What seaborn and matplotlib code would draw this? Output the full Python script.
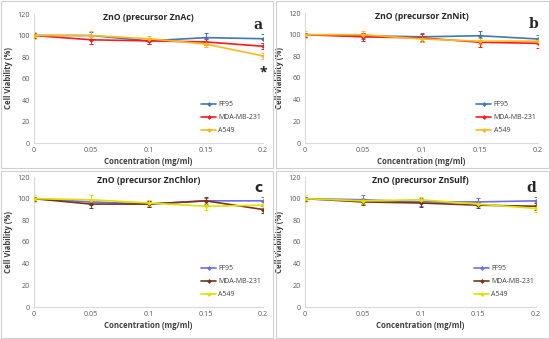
import numpy as np
import pandas as pd
import matplotlib as mpl
import matplotlib.pyplot as plt
import seaborn as sns
from matplotlib.patches import Rectangle

sns.set_style("white")
plt.rcParams['font.family'] = ['Open Sans', 'DejaVu Sans']

# data
conc = [0, 0.05, 0.1, 0.15, 0.2]
conc_labels = ['0', '0.05', '0.1', '0.15', '0.2']
lines = ['FF95', 'MDA-MB-231', 'A549']

titles = ['ZnO (precursor ZnAc)', 'ZnO (precursor ZnNit)',
          'ZnO (precursor ZnChlor)', 'ZnO (precursor ZnSulf)']
letters = ['a', 'b', 'c', 'd']

# panel a
a_ff95 = [100, 100, 95, 98, 97]
a_mda = [100, 96, 95, 94, 90]
a_a549 = [100, 100, 97, 92, 81]
a_err = [[2, 3, 3, 4, 4], [2, 4, 3, 3, 3], [3, 4, 3, 3, 3]]
# panel b
b_ff95 = [100, 99, 98, 99, 96]
b_mda = [100, 98, 97, 93, 92]
b_a549 = [100, 100, 96, 94, 94]
b_err = [[2, 3, 4, 4, 4], [2, 4, 4, 4, 4], [3, 3, 3, 3, 3]]
# panel c
c_ff95 = [100, 97, 95, 98, 98]
c_mda = [100, 95, 95, 98, 90]
c_a549 = [100, 99, 96, 93, 94]
c_err = [[2, 3, 3, 3, 4], [2, 4, 3, 4, 3], [3, 4, 3, 3, 3]]
# panel d
d_ff95 = [100, 99, 97, 97, 98]
d_mda = [100, 97, 96, 94, 93]
d_a549 = [100, 98, 99, 95, 91]
d_err = [[2, 4, 4, 4, 4], [2, 3, 4, 3, 3], [3, 3, 3, 3, 3]]

panels = [
    ([a_ff95, a_mda, a_a549], a_err),
    ([b_ff95, b_mda, b_a549], b_err),
    ([c_ff95, c_mda, c_a549], c_err),
    ([d_ff95, d_mda, d_a549], d_err),
]

pal_ab = ['#3f78b5', '#ff1a1a', '#ffb81c']
pal_cd = ['#6f6fe0', '#7a3318', '#e0e000']

W, H = 550, 339
fig = plt.figure(figsize=(W / 100, H / 100), dpi=100)

# axes boxes in pixels: left, right, top, bottom
boxes = [(34, 263, 14, 143), (305, 538, 13, 143),
         (34, 263, 177, 307), (305, 536, 177, 307)]
frames = [(1, 273, 1, 168), (276, 549, 1, 168),
          (1, 273, 171, 338), (276, 549, 171, 338)]

for fx0, fx1, fy0, fy1 in frames:
    fig.patches.append(Rectangle((fx0 / W, 1 - fy1 / H), (fx1 - fx0) / W, (fy1 - fy0) / H,
                                 transform=fig.transFigure, fill=False,
                                 edgecolor='#d0d0d0', linewidth=0.8))

for i, ((vals, errs), (l, r, t, b)) in enumerate(zip(panels, boxes)):
    ax = fig.add_axes([l / W, 1 - b / H, (r - l) / W, (b - t) / H])
    pal = pal_ab if i < 2 else pal_cd
    df = pd.DataFrame({
        'conc': conc * 3,
        'viab': vals[0] + vals[1] + vals[2],
        'line': sum([[n] * 5 for n in lines], []),
    })
    for j, name in enumerate(lines):
        ax.errorbar(conc, vals[j], yerr=errs[j], fmt='none', ecolor=pal[j],
                    elinewidth=0.7, capsize=1.2, capthick=0.7, zorder=2)
    sns.lineplot(data=df, x='conc', y='viab', hue='line', palette=pal,
                 marker='D', markersize=2.5, markeredgewidth=0, linewidth=1.2,
                 ax=ax, zorder=3)
    ax.set_xlim(0, 0.2)
    ax.set_ylim(0, 120)
    ax.set_xticks(conc)
    ax.set_xticklabels(conc_labels)
    ax.set_yticks(range(0, 121, 20))
    ax.tick_params(length=0, labelsize=5.2, labelcolor='#595959', pad=3)
    for s in ['top', 'right']:
        ax.spines[s].set_visible(False)
    for s in ['left', 'bottom']:
        ax.spines[s].set_color('#d9d9d9')
        ax.spines[s].set_linewidth(0.8)
    ax.set_xlabel('Concentration (mg/ml)', fontsize=5.6, fontweight='bold',
                  color='#404040', labelpad=2)
    ax.set_ylabel('Cell Viability (%)', fontsize=5.6, fontweight='bold',
                  color='#404040', labelpad=3)
    ax.set_title(titles[i], fontsize=6.2, fontweight='bold', color='#262626',
                 pad=-4.5, y=1.0)
    fam = ['DejaVu Sans'] if i == 2 else ['DejaVu Serif']
    ax.text(1.0, 0.97, letters[i], transform=ax.transAxes, ha='right', va='top',
            fontsize=10, fontweight='bold', family=fam)
    if i == 0:
        ax.text(0.2, 66, '*', ha='center', va='center', fontsize=10,
                fontweight='bold', color='#222222')
    leg = ax.legend(loc='lower right', bbox_to_anchor=(1.02, 0.02), frameon=False,
                    fontsize=5, handlelength=2.2, labelspacing=0.85, handletextpad=0.3,
                    title=None)
    for txt in leg.get_texts():
        txt.set_color('#404040')
    ax.set_facecolor('white')

fig.savefig('out.png', dpi=100)
